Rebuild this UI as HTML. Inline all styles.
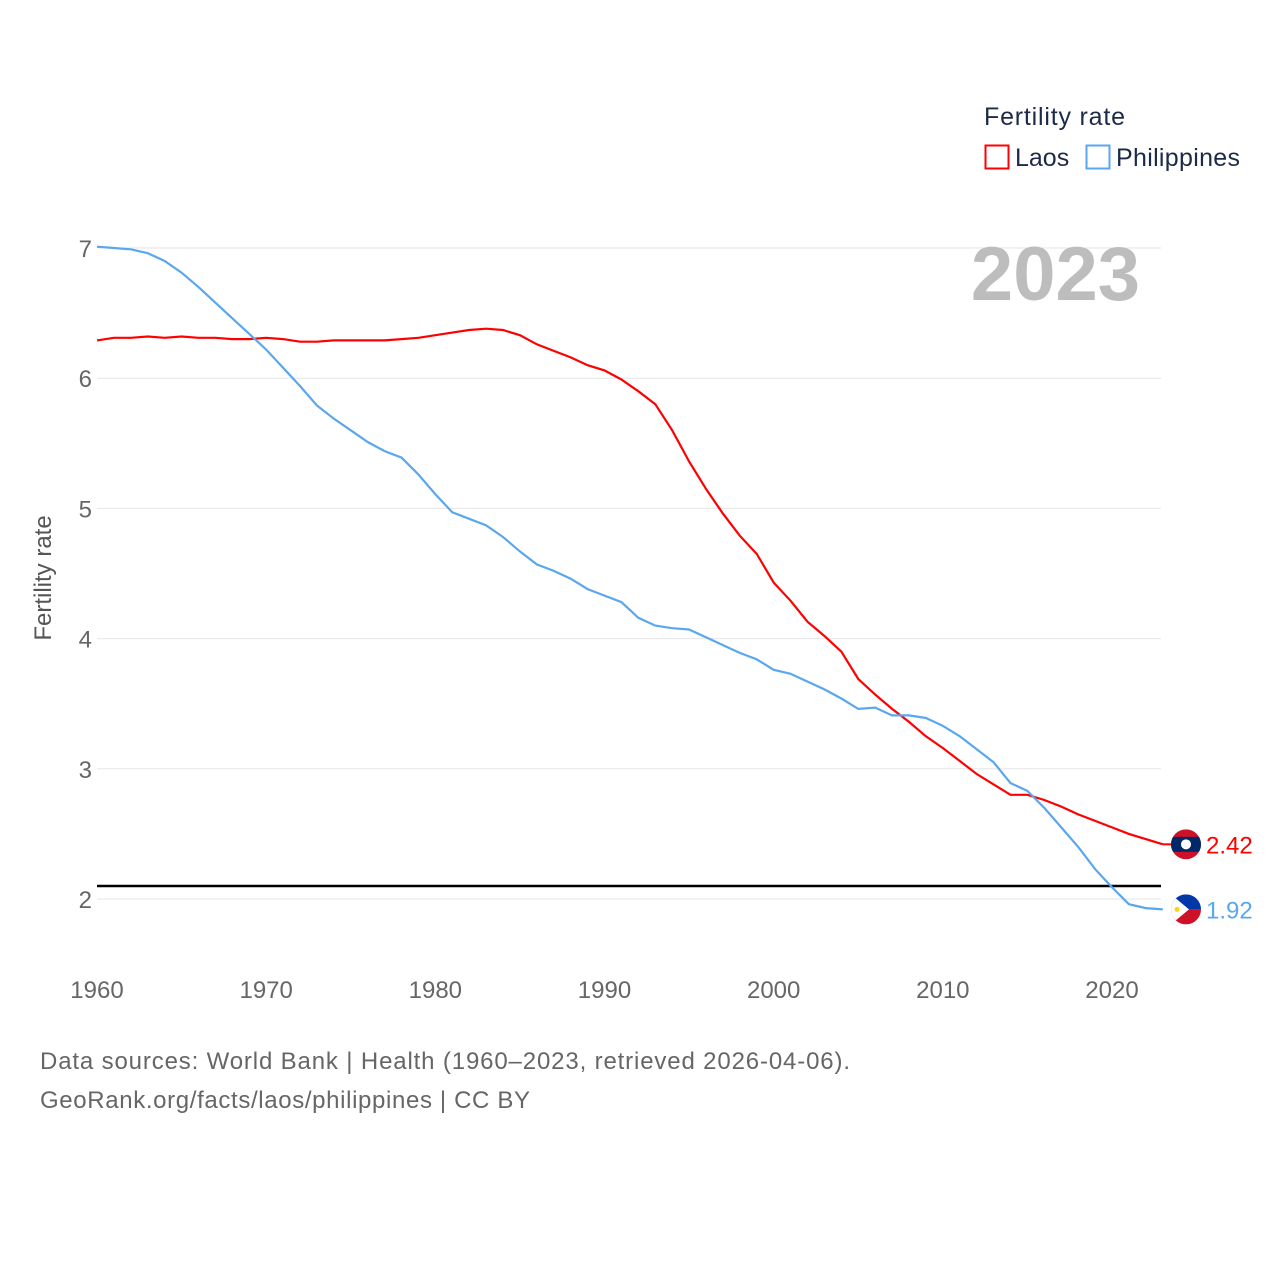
<!DOCTYPE html>
<html><head><meta charset="utf-8"><style>
body{margin:0;background:#fff;}
svg text{font-family:"Liberation Sans",sans-serif;}
</style></head><body>
<svg id="chart" width="1280" height="1280" viewBox="0 0 1280 1280" xmlns="http://www.w3.org/2000/svg">
<g id="grid"></g>
<g id="yticks"></g>
<g id="xticks"></g>
<text transform="translate(51,578) rotate(-90)" text-anchor="middle" font-size="24" fill="#555">Fertility rate</text>
<text x="1140" y="300" text-anchor="end" font-size="76" font-weight="bold" fill="#bdbdbd">2023</text>
<line id="refline" stroke="#000" stroke-width="2.5"></line>
<path id="laos" fill="none" stroke="#f00" stroke-width="2.2"></path>
<path id="phl" fill="none" stroke="#5aa7ef" stroke-width="2.2"></path>
<g>
<text x="984" y="125" font-size="25" fill="#1c2a48" textLength="141">Fertility rate</text>
<rect x="985.5" y="145.5" width="23" height="23" fill="none" stroke="#f00" stroke-width="2"/>
<text x="1015" y="166" font-size="25" fill="#1c2a48">Laos</text>
<rect x="1086.5" y="145.5" width="23" height="23" fill="none" stroke="#5aa7ef" stroke-width="2"/>
<text x="1116" y="166" font-size="25" fill="#1c2a48" textLength="124">Philippines</text>
</g>
<g id="ends"></g>
<text x="40" y="1069" font-size="24" fill="#666" textLength="810">Data sources: World Bank | Health (1960–2023, retrieved 2026-04-06).</text>
<text x="40" y="1108" font-size="24" fill="#666" textLength="490">GeoRank.org/facts/laos/philippines | CC BY</text>
</svg>
<script>
const years=[];for(let y=1960;y<=2023;y++)years.push(y);
const laos=[6.29,6.31,6.31,6.32,6.31,6.32,6.31,6.31,6.30,6.30,6.31,6.30,6.28,6.28,6.29,6.29,6.29,6.29,6.30,6.31,6.33,6.35,6.37,6.38,6.37,6.33,6.26,6.21,6.16,6.10,6.06,5.99,5.90,5.80,5.60,5.36,5.15,4.96,4.79,4.65,4.43,4.29,4.13,4.02,3.90,3.69,3.57,3.46,3.36,3.25,3.16,3.06,2.96,2.88,2.80,2.80,2.76,2.71,2.65,2.60,2.55,2.50,2.46,2.42];
const philippines=[7.01,7.00,6.99,6.96,6.90,6.81,6.70,6.58,6.46,6.34,6.22,6.08,5.94,5.79,5.69,5.60,5.51,5.44,5.39,5.26,5.11,4.97,4.92,4.87,4.78,4.67,4.57,4.52,4.46,4.38,4.33,4.28,4.16,4.10,4.08,4.07,4.01,3.95,3.89,3.84,3.76,3.73,3.67,3.61,3.54,3.46,3.47,3.41,3.41,3.39,3.33,3.25,3.15,3.05,2.89,2.83,2.70,2.55,2.40,2.23,2.09,1.96,1.93,1.92];
const yTicks=[2,3,4,5,6,7];
const xTicks=[1960,1970,1980,1990,2000,2010,2020];
const replacement=2.1;
const NS="http://www.w3.org/2000/svg";
const xs=y=>97+(y-1960)*(1112-97)/60;
const ys=v=>899-(v-2)*(899-248)/5;
function mk(tag,attrs,parent,txt){const e=document.createElementNS(NS,tag);for(const k in attrs)e.setAttribute(k,attrs[k]);if(txt!==undefined)e.textContent=txt;parent.appendChild(e);return e;}
const grid=document.getElementById('grid'),yt=document.getElementById('yticks'),xt=document.getElementById('xticks');
yTicks.forEach(v=>{
 const l=mk('line',{x1:97,x2:1161,y1:ys(v),y2:ys(v),stroke:'#e6e6e6','stroke-width':1},grid);
 
 
 const t=mk('text',{x:92,y:ys(v)+9,'text-anchor':'end','font-size':24,fill:'#666'},yt,String(v));
 
 
});
xTicks.forEach(v=>{
 const t=mk('text',{x:xs(v),y:998,'text-anchor':'middle','font-size':24,fill:'#666'},xt,String(v));
 
 
});
const rl=document.getElementById('refline');
rl.setAttribute('x1',97);rl.setAttribute('x2',1161);rl.setAttribute('y1',ys(replacement));rl.setAttribute('y2',ys(replacement));
const path=arr=>arr.map((v,i)=>(i?'L':'M')+xs(years[i]).toFixed(1)+','+ys(v).toFixed(1)).join('');
document.getElementById('laos').setAttribute('d',path(laos));
document.getElementById('phl').setAttribute('d',path(philippines));
const ends=document.getElementById('ends');
const lx=xs(2023),fx=1186;
let lv=laos[laos.length-1],ly=ys(lv);
mk('line',{x1:lx,x2:fx-15,y1:ly,y2:ly,stroke:'#f00','stroke-width':2},ends);
let g=mk('g',{},ends);


mk('clipPath',{id:'c1'},g);mk('circle',{cx:fx,cy:ly,r:15},g.lastChild);
const g1=mk('g',{'clip-path':'url(#c1)'},g);
mk('rect',{x:fx-15,y:ly-15,width:30,height:30,fill:'#ce1126'},g1);
mk('rect',{x:fx-15,y:ly-7.5,width:30,height:15,fill:'#002868'},g1);
mk('circle',{cx:fx,cy:ly,r:5,fill:'#fff'},g1);
let t=mk('text',{x:1206,y:ly+9,'font-size':24,fill:'#f00'},ends,lv.toFixed(2));


let pv=philippines[philippines.length-1],py=ys(pv);
g=mk('g',{},ends);


mk('clipPath',{id:'c2'},g);mk('circle',{cx:fx,cy:py,r:15},g.lastChild);
const g2=mk('g',{'clip-path':'url(#c2)'},g);
mk('rect',{x:fx-15,y:py-15,width:30,height:15,fill:'#0038a8'},g2);
mk('rect',{x:fx-15,y:py,width:30,height:15,fill:'#ce1126'},g2);
mk('polygon',{points:`${fx-15},${py-15} ${fx+3},${py} ${fx-15},${py+15}`,fill:'#fff'},g2);
mk('circle',{cx:fx-9,cy:py,r:2.5,fill:'#fcd116'},g2);
t=mk('text',{x:1206,y:py+9,'font-size':24,fill:'#5aa7ef'},ends,pv.toFixed(2));


</script>
</body></html>
